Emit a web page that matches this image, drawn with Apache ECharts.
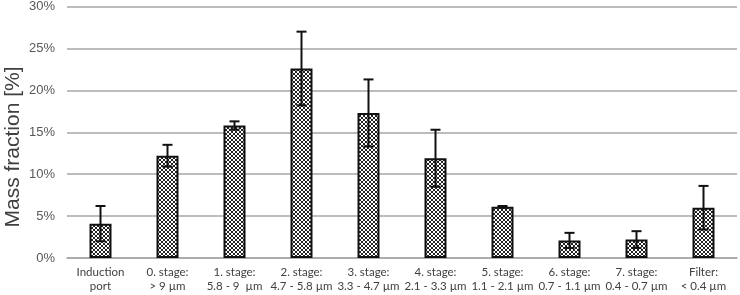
<!DOCTYPE html>
<html><head><meta charset="utf-8">
<script src="https://cdn.jsdelivr.net/npm/echarts@6/dist/echarts.min.js"></script>
<style>html,body{margin:0;padding:0;background:#fff}#c{width:740px;height:295px}</style>
</head><body><div id="c"></div>
<script>
const categories = ["Induction\nport","0. stage:\n> 9 µm","1. stage:\n5.8 - 9  µm","2. stage:\n4.7 - 5.8 µm","3. stage:\n3.3 - 4.7 µm","4. stage:\n2.1 - 3.3 µm","5. stage:\n1.1 - 2.1 µm","6. stage:\n0.7 - 1.1 µm","7. stage:\n0.4 - 0.7 µm","Filter:\n< 0.4 µm"];
const massFraction = [4.1, 12.2, 15.8, 22.6, 17.3, 11.9, 6.1, 2.1, 2.2, 6.0];
const errorAmount = [2.1, 1.3, 0.5, 4.4, 4.0, 3.4, 0.1, 0.9, 1.0, 2.6];
const yTicks = [0, 5, 10, 15, 20, 25, 30];

// crosshatch pattern
const pc = document.createElement('canvas');
pc.width = 4; pc.height = 4;
const g = pc.getContext('2d');
g.fillStyle = '#ffffff'; g.fillRect(0,0,4,4);
g.fillStyle = '#222222';
for (let i = 0; i < 4; i++) { g.fillRect(i,i,1,1); g.fillRect(i,3-i,1,1); }

const chart = echarts.init(document.getElementById('c'));
const errData = massFraction.map((v,i)=>[i, v - errorAmount[i], v + errorAmount[i]]);
chart.setOption({
  animation:false,
  grid:{left:67,right:3,top:6,bottom:37},
  graphic:[{type:'text',x:13,y:147,rotation:Math.PI/2,
    style:{text:'Mass fraction [%]',fill:'#404040',font:'21px "Liberation Sans"',align:'center',verticalAlign:'middle'}}],
  xAxis:{type:'category',data:categories,
    axisLine:{lineStyle:{color:'#a6a6a6',width:1.5}},
    axisTick:{show:false},
    axisLabel:{interval:0,color:'#404040',fontFamily:'Lato',fontSize:11.5,lineHeight:14,margin:7}},
  yAxis:{type:'value',min:yTicks[0],max:yTicks[yTicks.length-1],interval:5,
    axisLabel:{formatter:'{value}%',color:'#595959',fontSize:13,fontFamily:'Liberation Sans',margin:12},
    splitLine:{lineStyle:{color:'#a6a6a6',width:1.5}},
    axisLine:{show:false},axisTick:{show:false}},
  series:[
    {type:'bar',data:massFraction,barWidth:22,
      itemStyle:{color:{image:pc,repeat:'repeat'},borderColor:'#111',borderWidth:2}},
    {type:'custom',data:errData,z:10,
      renderItem:function(params,api){
        const x = api.value(0);
        const lo = api.coord([x, api.value(1)]);
        const hi = api.coord([x, api.value(2)]);
        const w = 5;
        const st = {stroke:'#111',lineWidth:2};
        return {type:'group',children:[
          {type:'line',shape:{x1:hi[0],y1:hi[1],x2:lo[0],y2:lo[1]},style:st},
          {type:'line',shape:{x1:hi[0]-w,y1:hi[1],x2:hi[0]+w,y2:hi[1]},style:st},
          {type:'line',shape:{x1:lo[0]-w,y1:lo[1],x2:lo[0]+w,y2:lo[1]},style:st}
        ]};
      }}
  ]
});
</script></body></html>
